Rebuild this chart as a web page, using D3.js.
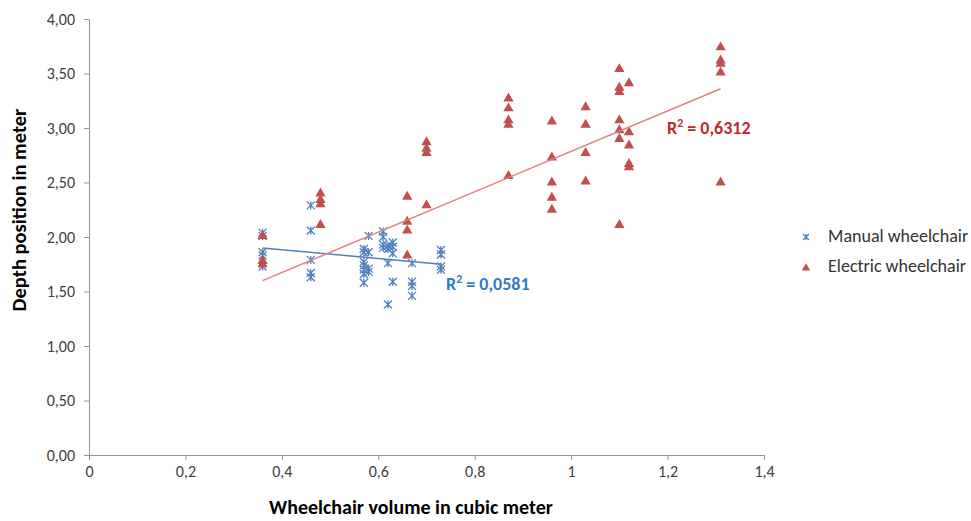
<!DOCTYPE html>
<html>
<head>
<meta charset="utf-8">
<script src="https://cdn.jsdelivr.net/npm/d3@7"></script>
<style>
  body { margin: 0; background: #fff; }
  svg text { font-family: Carlito, Calibri, Lato, "Open Sans", sans-serif; }
  .axis path, .axis line { stroke: #969696; }
  .axis text { fill: #404040; font-size: 16px; }
</style>
</head>
<body>
<script>
var width = 971,
    height = 521;

// manual wheelchair (volume, depth)
var manualX = [0.36, 0.36, 0.36, 0.36, 0.36,
  0.46, 0.46, 0.46, 0.46, 0.46,
  0.57, 0.57, 0.57, 0.57, 0.57, 0.57, 0.57,
  0.58, 0.58, 0.58, 0.58,
  0.61, 0.61, 0.61, 0.61,
  0.62, 0.62, 0.62, 0.62,
  0.63, 0.63, 0.63, 0.63,
  0.67, 0.67, 0.67, 0.67,
  0.73, 0.73, 0.73, 0.73];
var manualY = [2.04, 2.01, 1.86, 1.83, 1.73,
  2.29, 2.06, 1.79, 1.67, 1.63,
  1.89, 1.86, 1.77, 1.74, 1.70, 1.66, 1.58,
  2.01, 1.86, 1.71, 1.68,
  2.05, 2.00, 1.93, 1.90,
  1.92, 1.89, 1.76, 1.38,
  1.95, 1.91, 1.85, 1.59,
  1.76, 1.59, 1.55, 1.46,
  1.88, 1.84, 1.73, 1.70];

// electric wheelchair (volume, depth)
var electricX = [0.36, 0.36, 0.36,
  0.48, 0.48, 0.48, 0.48,
  0.66, 0.66, 0.66, 0.66,
  0.70, 0.70, 0.70, 0.70,
  0.87, 0.87, 0.87, 0.87, 0.87,
  0.96, 0.96, 0.96, 0.96, 0.96,
  1.03, 1.03, 1.03, 1.03,
  1.10, 1.10, 1.10, 1.10, 1.10, 1.10, 1.10,
  1.12, 1.12, 1.12, 1.12, 1.12,
  1.31, 1.31, 1.31, 1.31, 1.31];
var electricY = [2.01, 1.78, 1.75,
  2.40, 2.34, 2.30, 2.11,
  2.37, 2.14, 2.06, 1.83,
  2.87, 2.81, 2.77, 2.29,
  3.27, 3.18, 3.07, 3.03, 2.56,
  3.06, 2.73, 2.50, 2.36, 2.25,
  3.19, 3.03, 2.77, 2.51,
  3.54, 3.37, 3.33, 3.07, 2.98, 2.90, 2.11,
  3.41, 2.96, 2.84, 2.67, 2.64,
  3.74, 3.62, 3.59, 3.51, 2.50];

// linear trendlines: [x, y] at both ends
var manualTrend = [[0.36, 1.90], [0.73, 1.75]];
var electricTrend = [[0.36, 1.60], [1.31, 3.36]];

var xTicks = [0, 0.2, 0.4, 0.6, 0.8, 1, 1.2, 1.4];
var yTicks = [0, 0.5, 1, 1.5, 2, 2.5, 3, 3.5, 4];
var seriesNames = ["Manual wheelchair", "Electric wheelchair"];
var r2Labels = ["0,0581", "0,6312"];

var blue = "#4f81bd", red = "#c0504d";

var x = d3.scaleLinear().domain([0, 1.4]).range([89, 764]);
var y = d3.scaleLinear().domain([0, 4]).range([455, 19]);

var svg = d3.select("body").append("svg")
  .attr("width", width)
  .attr("height", height);

var comma = function(d) { return String(d).replace(".", ","); };

svg.append("g")
  .attr("class", "axis")
  .attr("transform", "translate(0,455)")
  .call(d3.axisBottom(x).tickValues(xTicks).tickSize(5).tickSizeOuter(0).tickPadding(6).tickFormat(comma));

svg.append("g")
  .attr("class", "axis")
  .attr("transform", "translate(89,0)")
  .call(d3.axisLeft(y).tickValues(yTicks).tickSize(5).tickSizeOuter(0).tickPadding(9)
    .tickFormat(function(d) { return d3.format(".2f")(d).replace(".", ","); }));

// excel style star marker: x with vertical bar
var star = {
  draw: function(ctx, size) {
    var r = Math.sqrt(size) / 2;
    ctx.moveTo(-r, -r); ctx.lineTo(r, r);
    ctx.moveTo(r, -r); ctx.lineTo(-r, r);
    ctx.moveTo(0, -r); ctx.lineTo(0, r);
  }
};

var line = d3.line().x(function(d) { return x(d[0]); }).y(function(d) { return y(d[1]); });

svg.append("g").selectAll("path")
  .data(manualX)
  .enter().append("path")
    .attr("transform", function(d, i) { return "translate(" + x(d) + "," + y(manualY[i]) + ")"; })
    .attr("d", d3.symbol().type(star).size(64))
    .attr("fill", "none")
    .attr("stroke", blue)
    .attr("stroke-width", 1.3);

svg.append("g").selectAll("path")
  .data(electricX)
  .enter().append("path")
    .attr("transform", function(d, i) { return "translate(" + x(d) + "," + y(electricY[i]) + ")"; })
    .attr("d", d3.symbol().type(d3.symbolTriangle).size(46))
    .attr("fill", red);

[[manualTrend, blue], [electricTrend, "#e0817e"]].forEach(function(t) {
  svg.append("path")
    .datum(t[0])
    .attr("d", line)
    .attr("fill", "none")
    .attr("stroke", t[1])
    .attr("stroke-width", 1.5);
});

// R² labels
function r2(px, py, color, val) {
  var t = svg.append("text")
    .attr("x", px).attr("y", py)
    .attr("fill", color)
    .attr("font-size", "18px")
    .attr("font-weight", "bold");
  t.append("tspan").text("R");
  t.append("tspan").attr("dy", -7).attr("font-size", "12px").text("2");
  t.append("tspan").attr("dy", 7).text(" = " + val);
}
r2(446, 290, "#2f7bc4", r2Labels[0]);
r2(667, 134, "#c0282a", r2Labels[1]);

// legend
var leg = svg.append("g");
leg.append("path")
  .attr("transform", "translate(806,237)")
  .attr("d", d3.symbol().type(star).size(36))
  .attr("fill", "none").attr("stroke", blue).attr("stroke-width", 1.2);
leg.append("path")
  .attr("transform", "translate(806,268)")
  .attr("d", d3.symbol().type(d3.symbolTriangle).size(30))
  .attr("fill", red);
leg.selectAll("text")
  .data(seriesNames)
  .enter().append("text")
    .attr("x", 828)
    .attr("y", function(d, i) { return 236 + i * 30; })
    .attr("dy", "0.35em")
    .attr("font-size", "18px")
    .attr("fill", "#333")
    .text(function(d) { return d; });

// axis titles
svg.append("text")
  .attr("x", 411).attr("y", 514)
  .attr("text-anchor", "middle")
  .attr("font-size", "20px").attr("font-weight", "bold")
  .text("Wheelchair volume in cubic meter");

svg.append("text")
  .attr("transform", "translate(26,210) rotate(-90)")
  .attr("text-anchor", "middle")
  .attr("font-size", "20.5px").attr("font-weight", "bold")
  .text("Depth position in meter");
</script>
</body>
</html>
